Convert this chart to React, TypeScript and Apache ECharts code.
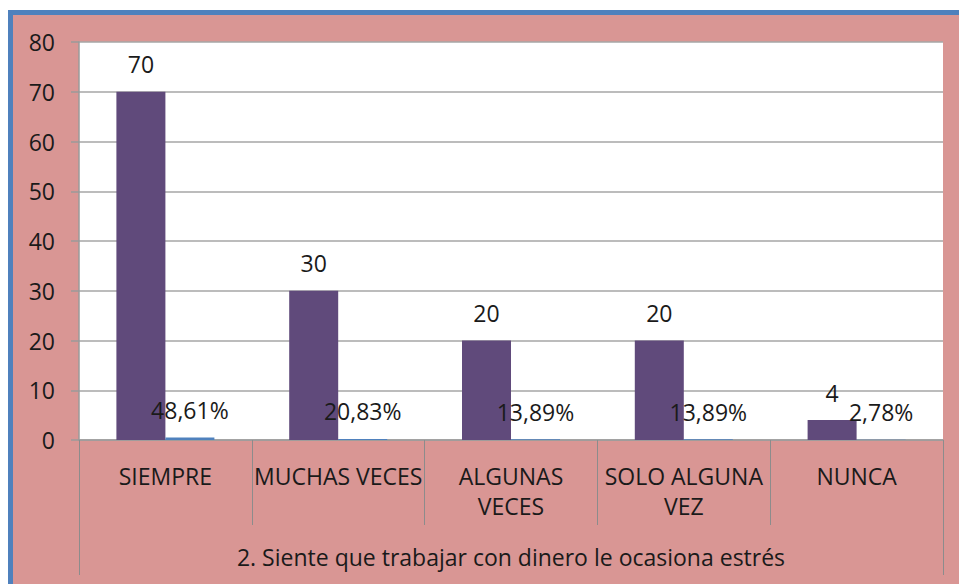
import React, { useEffect, useRef } from "react";
import * as echarts from "echarts";

const categories = ["SIEMPRE", "MUCHAS VECES", "ALGUNAS\nVECES", "SOLO ALGUNA\nVEZ", "NUNCA"];
const counts = [70, 30, 20, 20, 4];
const shares = [0.4861, 0.2083, 0.1389, 0.1389, 0.0278];
const groupLabel = ["2. Siente que trabajar con dinero le ocasiona estrés"];
const yMin = 0;
const yMax = 80;
const yStep = 10;

const FONT = "'Open Sans', sans-serif";
const FS = 23;

export default function App() {
  const ref = useRef<HTMLDivElement>(null);
  useEffect(() => {
    if (!ref.current) return;
    const chart = echarts.init(ref.current, null, { renderer: "svg" });
    chart.setOption({
      animation: false,
      backgroundColor: "#D99694",
      textStyle: { fontFamily: FONT },
      graphic: [
        { type: "rect", shape: { x: 0, y: 0, width: 959, height: 10 }, style: { fill: "#ffffff" }, silent: true },
        { type: "rect", shape: { x: 0, y: 0, width: 8, height: 584 }, style: { fill: "#ffffff" }, silent: true },
        { type: "rect", shape: { x: 8, y: 10, width: 951, height: 5 }, style: { fill: "#4F81BD" }, silent: true },
        { type: "rect", shape: { x: 8, y: 10, width: 5, height: 574 }, style: { fill: "#4F81BD" }, silent: true },
      ],
      grid: {
        left: 79,
        right: 16,
        top: 42,
        bottom: 144,
        show: true,
        backgroundColor: "#ffffff",
        borderWidth: 0,
      },
      xAxis: [
        {
          type: "category",
          data: categories,
          position: "bottom",
          axisLine: { show: true, lineStyle: { color: "#9a9a9a", width: 1.5 } },
          axisTick: { show: true, length: 85, interval: 0, lineStyle: { color: "#8c8c8c", width: 1 } },
          axisLabel: {
            interval: 0,
            margin: 21,
            color: "#1a1a1a",
            fontSize: FS,
            lineHeight: 30,
            fontFamily: FONT,
            align: "center",
          },
        },
        {
          type: "category",
          data: groupLabel,
          position: "bottom",
          axisLine: { show: false },
          axisTick: { show: true, length: 135, interval: 0, lineStyle: { color: "#8c8c8c", width: 1 } },
          axisLabel: {
            interval: 0,
            margin: 105,
            color: "#1a1a1a",
            fontSize: FS,
            lineHeight: 24,
            fontFamily: FONT,
          },
        },
      ],
      yAxis: {
        type: "value",
        min: yMin,
        max: yMax,
        interval: yStep,
        axisLine: { show: true, lineStyle: { color: "#9a9a9a", width: 1.5 } },
        axisTick: { show: true, length: 8, lineStyle: { color: "#9a9a9a", width: 1.5 } },
        axisLabel: { margin: 24, color: "#1a1a1a", fontSize: FS, fontFamily: FONT },
        splitLine: { show: true, lineStyle: { color: "#a6a6a6", width: 1.5 } },
      },
      series: [
        {
          type: "bar",
          data: counts,
          barWidth: 49,
          barGap: "0%",
          itemStyle: { color: "#604A7B" },
          label: {
            show: true,
            position: "top",
            distance: 16,
            color: "#1a1a1a",
            fontSize: FS,
            fontFamily: FONT,
          },
        },
        {
          type: "bar",
          data: shares,
          barWidth: 49,
          barGap: "0%",
          itemStyle: { color: "#4F81BD" },
          label: {
            show: true,
            position: "top",
            distance: 16,
            color: "#1a1a1a",
            fontSize: FS,
            fontFamily: FONT,
            formatter: (p: any) => (p.value * 100).toFixed(2).replace(".", ",") + "%",
          },
        },
      ],
    });
    return () => chart.dispose();
  }, []);
  return (
    <div
      ref={ref}
      style={{ position: "absolute", left: 0, top: 0, width: 959, height: 584 }}
    />
  );
}
